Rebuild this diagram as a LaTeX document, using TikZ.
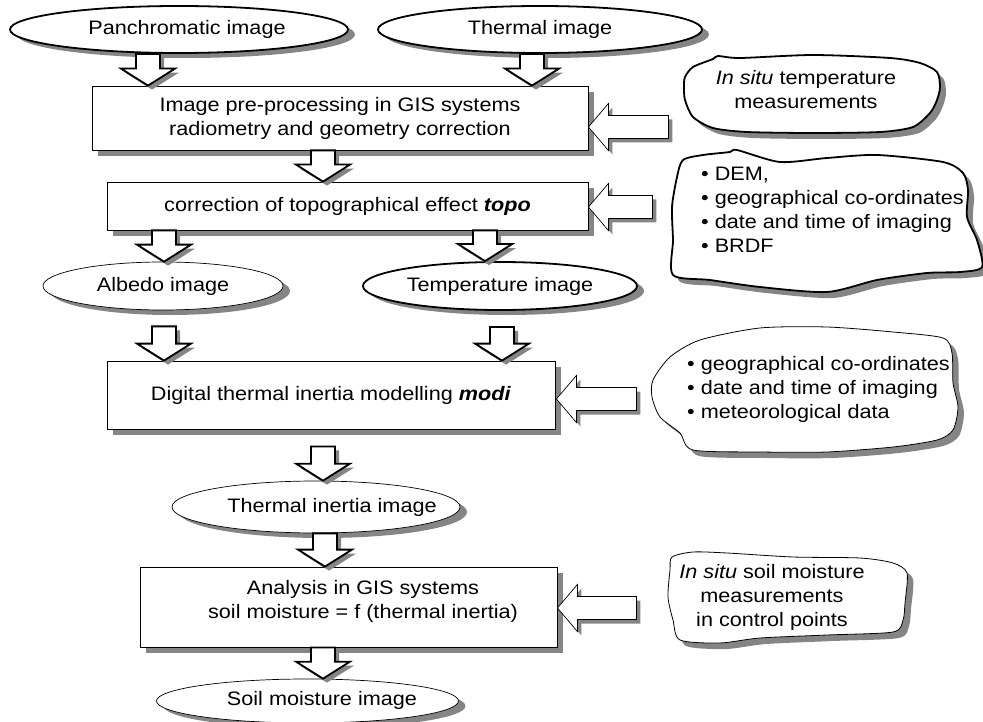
\documentclass[tikz,border=0pt]{standalone}
\usepackage{fontspec}
\setmainfont{Liberation Sans}[FakeStretch=1.11]
\usetikzlibrary{shapes.geometric,shadows,calc}
\newcommand\mainfs{\fontsize{19.5}{24}\selectfont}
\tikzset{
  shd/.style={drop shadow={shadow xshift=6pt, shadow yshift=-6pt, opacity=1, fill=black!48}},
  eshd/.style={drop shadow={shadow xshift=7pt, shadow yshift=-5pt, opacity=1, fill=black!48}},
  ashd/.style={drop shadow={shadow xshift=4pt, shadow yshift=-4pt, opacity=1, fill=black!48}},
  ellthick/.style={ellipse, draw, line width=1.8pt, fill=white, inner sep=0pt, eshd},
  ellthin/.style={ellipse, draw, line width=0.7pt, fill=white, inner sep=0pt, eshd},
  procbox/.style={rectangle, draw, line width=0.8pt, fill=white, inner sep=0pt, align=center, shd},
  dnblock/.style={draw, line width=1.8pt, fill=white, line join=miter, ashd},
  lfblock/.style={draw, line width=0.7pt, fill=white, line join=miter, ashd},
  cloudthick/.style={draw, line width=1.8pt, fill=white, shd},
  cloudthin/.style={draw, line width=0.8pt, fill=white, shd},
  txt/.style={inner sep=0pt, align=center}
}
\newcommand\dnarrow[2]{\draw[dnblock] let \p1=(#1), \p2=(#2) in (\x1-12pt,\y1) -- (\x1-12pt,\y2+17pt) -- (\x1-27pt,\y2+17pt) -- (\x1,\y2) -- (\x1+27pt,\y2+17pt) -- (\x1+12pt,\y2+17pt) -- (\x1+12pt,\y1) -- cycle;}
\newcommand\lfarrow[2]{\draw[lfblock] let \p1=(#1) in (\x1,\y1) -- (\x1+20pt,\y1+23.5pt) -- (\x1+20pt,\y1+11.5pt) -- (\x1+#2pt,\y1+11.5pt) -- (\x1+#2pt,\y1-11.5pt) -- (\x1+20pt,\y1-11.5pt) -- (\x1+20pt,\y1-23.5pt) -- cycle;}
\begin{document}
\begin{tikzpicture}[x=1pt,y=-1pt, every node/.style={font=\mainfs}]
\useasboundingbox (0,0) rectangle (983,722);

% clouds
\draw[cloudthick] plot[smooth cycle, tension=0.45] coordinates {(685,77) (693,67) (713,59) (718,56) (740,58) (813,55) (890,58) (920,63) (937,72) (940,87) (937,100) (930,113) (913,127) (880,132) (813,133) (747,132) (713,128) (693,117) (685,100) (684,87)};
\draw[cloudthick] plot[smooth cycle, tension=0.45] coordinates {(677,177) (683,160) (703,155) (730,152) (737,150) (780,162) (827,158) (877,155) (943,162) (963,173) (968,190) (967,217) (977,240) (982,267) (960,272) (927,273) (877,280) (827,292) (760,287) (710,280) (673,275) (673,240) (672,207)};
\draw[cloudthin] plot[smooth cycle, tension=0.45] coordinates {(653,380) (670,357) (700,340) (760,328) (827,327) (893,332) (943,338) (952,353) (953,383) (958,407) (953,430) (937,440) (893,447) (827,452) (760,452) (693,450) (680,433) (660,417) (652,397)};
\draw[cloudthin] plot[smooth cycle, tension=0.45] coordinates {(672,557) (693,552) (727,553) (793,557) (860,558) (893,563) (907,573) (905,603) (903,620) (893,632) (827,635) (760,638) (720,643) (680,640) (673,620) (668,597) (670,570)};

\node[txt] (c1txt) at (806,90) {\textit{In situ} temperature\\measurements};
\node[txt, align=left, anchor=west] (c2txt) at (701,209.5) {• DEM,\\• geographical co-ordinates\\• date and time of imaging\\• BRDF};
\node[txt, align=left, anchor=west] (c3txt) at (687,389.5) {• geographical co-ordinates\\• date and time of imaging\\• meteorological data};
\node[txt] (c4txt) at (772,597.5) {\textit{In situ} soil moisture\\measurements\\in control points};

% main nodes
\node[ellthick, minimum width=338pt, minimum height=47pt] (pan) at (179,29.5) {\hspace*{16pt}Panchromatic image};
\node[ellthick, minimum width=324pt, minimum height=47pt] (therm) at (540,29.5) {Thermal image};
\node[procbox, minimum width=496pt, minimum height=64pt] (box1) at (340,118) {Image pre-processing in GIS systems\\radiometry and geometry correction};
\node[procbox, minimum width=481pt, minimum height=48pt] (box2) at (347.5,206) {correction of topographical effect \textbf{\textit{topo}}};
\node[ellthin, minimum width=240pt, minimum height=48pt] (albedo) at (163,286) {Albedo image};
\node[ellthick, minimum width=274pt, minimum height=48pt] (temp) at (500,286) {Temperature image};
\node[procbox, minimum width=448pt, minimum height=68pt] (box3) at (331,395) {Digital thermal inertia modelling \textbf{\textit{modi}}};
\node[ellthin, minimum width=288pt, minimum height=52pt] (tie) at (316,507) {};
\node[txt] (tietxt) at (332,507) {Thermal inertia image};
\node[procbox, minimum width=417pt, minimum height=80pt] (box4) at (348.5,607) {};
\node[txt] (box4txt) at (363,601) {Analysis in GIS systems\\soil moisture = f (thermal inertia)};
\node[ellthin, minimum width=302pt, minimum height=44pt] (soil) at (307.5,701) {};
\node[txt] (soiltxt) at (322,700) {Soil moisture image};

% down block arrows
\dnarrow{$(pan.south)+(-31,0)$}{box1.north}
\dnarrow{$(therm.south)+(-8,0)$}{box1.north}
\dnarrow{$(box1.south)+(-17,0)$}{box2.north}
\dnarrow{$(box2.south)+(-183.5,0)$}{albedo.north}
\dnarrow{$(box2.south)+(137.5,0)$}{temp.north}
\dnarrow{$(albedo.south)+(1,16)$}{box3.north}
\dnarrow{$(temp.south)+(2,16)$}{box3.north}
\dnarrow{$(box3.south)+(-8,17)$}{tie.north}
\dnarrow{$(tie.south)+(9,0)$}{box4.north}
\dnarrow{$(box4.south)+(-25.5,0)$}{soil.north}

% left block arrows
\lfarrow{$(box1.east)+(0,9)$}{80}
\lfarrow{$(box2.east)+(0,1)$}{64}
\lfarrow{$(box3.east)+(1,4)$}{80}
\lfarrow{$(box4.east)+(0,1)$}{79}
\end{tikzpicture}
\end{document}
